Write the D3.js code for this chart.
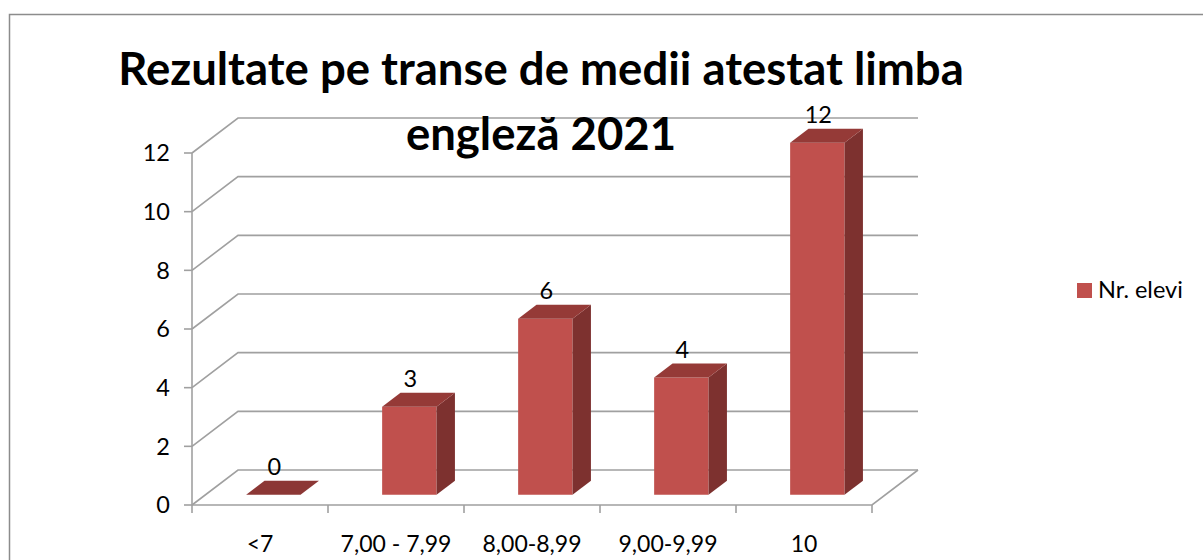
<!DOCTYPE html>
<html>
<head>
<meta charset="utf-8">
<script src="https://cdn.jsdelivr.net/npm/d3@7"></script>
<style>
  body { margin: 0; background: #fff; }
  svg { display: block; font-family: Lato, "Open Sans", sans-serif; }
</style>
</head>
<body>
<svg width="1203" height="560"></svg>
<script>
// data
const categories = ["<7", "7,00 - 7,99", "8,00-8,99", "9,00-9,99", "10"];
const values = [0, 3, 6, 4, 12];
const yTicks = [0, 2, 4, 6, 8, 10, 12];
const seriesName = "Nr. elevi";
const titleLines = ["Rezultate pe transe de medii atestat limba", "engleză 2021"];

const svg = d3.select("svg");

// 3d geometry
const floorY = 505;       // front edge of the floor
const depthX = 46, depthY = 35;  // offset to the back wall
const barF0 = 0.29, barF1 = 0.69; // bar depth (fraction of floor depth)
const labelSize = 23.5;

const x = d3.scaleBand()
    .domain(categories)
    .range([192, 872]);

const y = d3.scaleLinear()
    .domain([0, 12])
    .range([0, 352]);

// projection: front x, value, depth fraction -> screen
const proj = (px, v, f) => [px + f * depthX, floorY - y(v) - f * depthY];

// chart border
svg.append("rect")
    .attr("x", 9.5).attr("y", 14.5)
    .attr("width", 1210).attr("height", 560)
    .attr("fill", "none")
    .attr("stroke", "#8c8c8c")
    .attr("stroke-width", 1.5);

const grid = svg.append("g")
    .attr("stroke", "#a0a0a0")
    .attr("stroke-width", 1.6)
    .attr("fill", "none");

// gridlines: side wall diagonal + back wall
yTicks.forEach(t => {
    const a = proj(x.range()[0], t, 0),
        b = proj(x.range()[0], t, 1),
        c = proj(x.range()[1], t, 1);
    grid.append("path")
        .attr("d", d3.line()([a, b, c]));
    // tick mark on vertical axis
    grid.append("line")
        .attr("x1", a[0] - 8).attr("x2", a[0])
        .attr("y1", a[1]).attr("y2", a[1]);
});

// vertical axis (front)
grid.append("line")
    .attr("x1", x.range()[0]).attr("x2", x.range()[0])
    .attr("y1", floorY).attr("y2", floorY - y(12));

// floor front and right edge
grid.append("path")
    .attr("d", d3.line()([proj(x.range()[0], 0, 0), proj(x.range()[1], 0, 0), proj(x.range()[1], 0, 1)]));

// category ticks
const bounds = categories.map(c => x(c)).concat([x.range()[1]]);
bounds.forEach(b => {
    grid.append("line")
        .attr("x1", b).attr("x2", b)
        .attr("y1", floorY).attr("y2", floorY + 8);
});

// y labels
svg.append("g")
    .selectAll("text")
    .data(yTicks)
    .join("text")
    .attr("x", 170)
    .attr("y", d => floorY - y(d))
    .attr("dy", "0.36em")
    .attr("text-anchor", "end")
    .attr("font-size", labelSize)
    .attr("fill", "#000")
    .text(d => d);

// x labels
svg.append("g")
    .selectAll("text")
    .data(categories)
    .join("text")
    .attr("x", d => x(d) + x.bandwidth() / 2)
    .attr("y", 552)
    .attr("text-anchor", "middle")
    .attr("font-size", 23)
    .attr("fill", "#000")
    .text(d => d);

// bars
const barW = x.bandwidth() * 0.4;
const bars = svg.append("g")
    .selectAll("g")
    .data(categories.map((c, i) => ({ cat: c, v: values[i] })))
    .join("g");

const poly = pts => "M" + pts.map(p => p.join(",")).join("L") + "Z";
const barLeft = d => x(d.cat) + (x.bandwidth() - barW) / 2;

// front face
bars.filter(d => d.v > 0).append("path")
    .attr("fill", "#c0504d")
    .attr("d", d => {
        const l = barLeft(d), r = l + barW;
        return poly([proj(l, 0, barF0), proj(r, 0, barF0), proj(r, d.v, barF0), proj(l, d.v, barF0)]);
    });

// side face
bars.filter(d => d.v > 0).append("path")
    .attr("fill", "#7d312f")
    .attr("d", d => {
        const r = barLeft(d) + barW;
        return poly([proj(r, 0, barF0), proj(r, 0, barF1), proj(r, d.v, barF1), proj(r, d.v, barF0)]);
    });

// top face
bars.append("path")
    .attr("fill", d => d.v > 0 ? "#953a37" : "#8c3735")
    .attr("d", d => {
        const l = barLeft(d), r = l + barW;
        return poly([proj(l, d.v, barF0), proj(r, d.v, barF0), proj(r, d.v, barF1), proj(l, d.v, barF1)]);
    });

// value labels
bars.append("text")
    .attr("x", d => proj(barLeft(d) + barW / 2, d.v, barF0)[0] + 1)
    .attr("y", d => proj(0, d.v, barF1)[1] - 6)
    .attr("text-anchor", "middle")
    .attr("font-size", labelSize)
    .attr("fill", "#000")
    .text(d => d.v);

// title
svg.append("text")
    .attr("font-size", 45.5)
    .attr("font-weight", "bold")
    .attr("text-anchor", "middle")
    .attr("fill", "#000")
    .selectAll("tspan")
    .data(titleLines)
    .join("tspan")
    .attr("x", 541)
    .attr("y", (d, i) => 85 + i * 65)
    .text(d => d);

// legend
const legend = svg.append("g");
legend.append("rect")
    .attr("x", 1077).attr("y", 283)
    .attr("width", 15).attr("height", 15)
    .attr("fill", "#c0504d");
legend.append("text")
    .attr("x", 1098).attr("y", 298)
    .attr("font-size", labelSize)
    .attr("fill", "#000")
    .text(seriesName);
</script>
</body>
</html>
